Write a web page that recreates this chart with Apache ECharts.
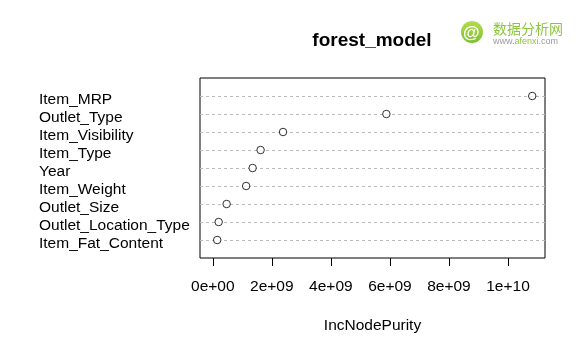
<!DOCTYPE html>
<html>
<head>
<meta charset="utf-8">
<script src="https://cdn.jsdelivr.net/npm/echarts@6/dist/echarts.min.js"></script>
<style>
html,body{margin:0;padding:0;background:#fff;}
#c{width:585px;height:356px;}
</style>
</head>
<body>
<div id="c"></div>
<script>
// Variables, top to bottom as displayed
const categories = ["Item_MRP","Outlet_Type","Item_Visibility","Item_Type","Year","Item_Weight","Outlet_Size","Outlet_Location_Type","Item_Fat_Content"];
const incNodePurity = [10.82e9, 5.88e9, 2.38e9, 1.62e9, 1.35e9, 1.13e9, 0.47e9, 0.20e9, 0.15e9];
const tickValues = [0, 2e9, 4e9, 6e9, 8e9, 1e10];
const tickLabels = ["0e+00","2e+09","4e+09","6e+09","8e+09","1e+10"];
const chartTitle = "forest_model";
const axisTitle = "IncNodePurity";

const n = categories.length;
const FONT = "'Liberation Sans', Arial, sans-serif";
const points = incNodePurity.map((v, i) => [v, n - i]);
const xmax = Math.max(...incNodePurity);

const chart = echarts.init(document.getElementById('c'), null, {renderer: 'canvas'});
chart.setOption({
  animation: false,
  backgroundColor: '#ffffff',
  grid: {left: 200, right: 40, top: 78, bottom: 98, show: true, borderColor: '#000', borderWidth: 1, backgroundColor: 'transparent'},
  xAxis: {
    type: 'value',
    min: -0.04 * xmax,
    max: 1.04 * xmax,
    axisLine: {show: false},
    splitLine: {show: false},
    axisTick: {show: true, customValues: tickValues, length: 8, lineStyle: {color: '#000', width: 1}},
    axisLabel: {
      customValues: tickValues,
      formatter: v => { const k = tickValues.indexOf(v); return k >= 0 ? tickLabels[k] : ''; },
      color: '#000', fontFamily: FONT, fontSize: 15.5, margin: 21
    },
    name: axisTitle,
    nameLocation: 'middle',
    nameGap: 60,
    nameTextStyle: {color: '#000', fontFamily: FONT, fontSize: 15.5}
  },
  yAxis: {
    type: 'value',
    min: 0, max: n + 1, interval: 1,
    axisLine: {show: false},
    axisTick: {show: false},
    splitLine: {show: true, showMinLine: false, showMaxLine: false, lineStyle: {color: '#bbbbbb', type: [3, 3], width: 1}},
    axisLabel: {
      showMinLabel: false, showMaxLabel: false,
      formatter: v => (v >= 1 && v <= n) ? '{a|' + categories[n - v] + '}' : '',
      align: 'left', margin: 161, color: '#000', fontFamily: FONT, fontSize: 15.5,
      rich: {a: {color: '#000', fontFamily: FONT, fontSize: 15.5, padding: [8, 0, 0, 0]}}
    }
  },
  series: [{
    type: 'scatter',
    data: points,
    symbol: 'circle',
    symbolSize: 7.5,
    itemStyle: {color: '#fff', borderColor: '#000', borderWidth: 1},
    silent: true
  }],
  graphic: [
    {type: 'text', x: 372, y: 41, style: {text: chartTitle, font: "bold 19px " + FONT, fill: '#000', align: 'center', verticalAlign: 'middle'}},
    {type: 'circle', shape: {cx: 472, cy: 32, r: 11}, style: {fill: new echarts.graphic.LinearGradient(0, 0, 0, 1, [{offset: 0, color: '#b5dc4a'}, {offset: 1, color: '#7cc033'}])}},
    {type: 'text', x: 471, y: 33, style: {text: '@', font: "italic bold 17px " + FONT, fill: '#fff', align: 'center', verticalAlign: 'middle'}},
    {type: 'text', x: 493, y: 29, style: {text: '数据分析网', font: "14px 'Noto Sans CJK SC'", fill: '#8cc63e', align: 'left', verticalAlign: 'middle'}},
    {type: 'text', x: 493, y: 42, style: {
      text: '{g|www.}{c|afenxi}{g|.com}',
      rich: {g: {fill: '#9a9a9a', font: "9px " + FONT}, c: {fill: '#8cc63e', font: "9px " + FONT}},
      align: 'left', verticalAlign: 'middle'}}
  ]
});
</script>
</body>
</html>
